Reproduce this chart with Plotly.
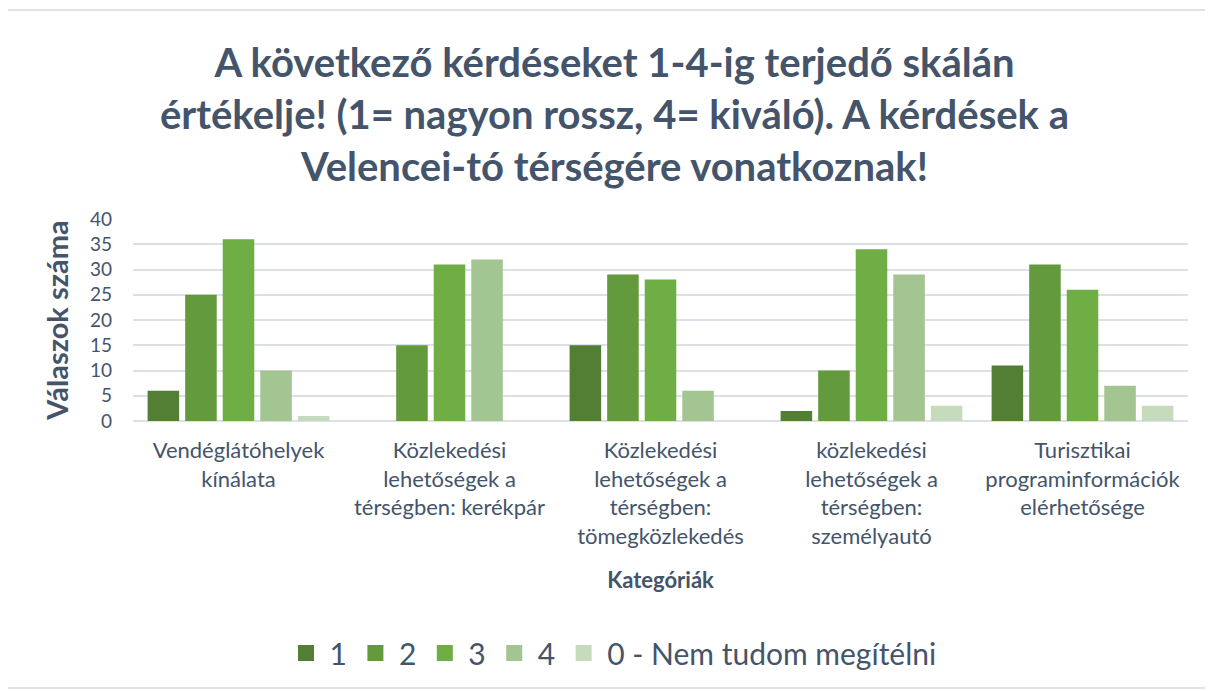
import plotly.graph_objects as go

# Kategóriák (x tengely)
categories = [
    "Vendéglátóhelyek<br>kínálata",
    "Közlekedési<br>lehetőségek a<br>térségben: kerékpár",
    "Közlekedési<br>lehetőségek a<br>térségben:<br>tömegközlekedés",
    "közlekedési<br>lehetőségek a<br>térségben:<br>személyautó",
    "Turisztikai<br>programinformációk<br>elérhetősége",
]

series_names = ["1", "2", "3", "4", "0 - Nem tudom megítélni"]

vals_1 = [6, 0, 15, 2, 11]
vals_2 = [25, 15, 29, 10, 31]
vals_3 = [36, 31, 28, 34, 26]
vals_4 = [10, 32, 6, 29, 7]
vals_0 = [1, 0, 0, 3, 3]

y_ticks = [0, 5, 10, 15, 20, 25, 30, 35, 40]

colors = ["#527f33", "#629a3d", "#6fad45", "#a2c591", "#c6dbbb"]
text_color = "#44546a"
font_family = "Lato, Calibri, 'Open Sans', sans-serif"

fig = go.Figure()
for name, vals, color in zip(series_names, [vals_1, vals_2, vals_3, vals_4, vals_0], colors):
    fig.add_trace(go.Bar(
        name=name, x=categories, y=vals, legendgroup=name, showlegend=False,
        marker=dict(color=color, line=dict(width=0)),
    ))
# nagyobb négyzetes jelmagyarázat-jelek
for name, color in zip(series_names, colors):
    fig.add_trace(go.Scatter(
        name=name, x=[None], y=[None], mode="markers", legendgroup=name,
        marker=dict(symbol="square", size=19, color=color),
    ))

# keret a diagram körül
fig.add_shape(
    type="rect", xref="paper", yref="paper",
    x0=-126 / 1055, x1=1 + 22 / 1055, y0=-267 / 202, y1=1 + 209 / 202,
    line=dict(color="#d9d9d9", width=1.5), fillcolor="rgba(0,0,0,0)", layer="below",
)

fig.update_layout(
    width=1213, height=691,
    margin=dict(l=125, r=33, t=211, b=278, autoexpand=False),
    paper_bgcolor="white", plot_bgcolor="white",
    font=dict(family=font_family, color=text_color),
    title=dict(
        text="<b>A következő kérdéseket 1-4-ig terjedő skálán<br>értékelje! (1= nagyon rossz, 4= kiváló). A kérdések a<br>Velencei-tó térségére vonatkoznak!</b>",
        x=0.5, xanchor="center", yref="container", y=1 - 69 / 691, yanchor="middle",
        font=dict(size=40, color=text_color, family=font_family),
    ),
    barmode="group", bargap=0.11, bargroupgap=0.16,
    showlegend=True,
    legend=dict(
        orientation="h", xref="container", x=(612 - 8) / 1213, xanchor="center",
        yref="container", y=1 - 645 / 691, yanchor="middle",
        font=dict(size=30, color=text_color), traceorder="normal",
        itemwidth=37,
    ),
    xaxis=dict(
        title=dict(text="<b>Kategóriák</b>", font=dict(size=22, color=text_color), standoff=24),
        tickfont=dict(size=22, color=text_color),
        ticklabelstandoff=14,
        showgrid=False, showline=False, ticks="",
    ),
    yaxis=dict(
        title=dict(text="<b>Válaszok száma</b>", font=dict(size=29, color=text_color), standoff=12),
        range=[0, 40], tickvals=y_ticks,
        tickfont=dict(size=19, color=text_color),
        ticklabelstandoff=20,
        showgrid=True, gridcolor="#dde1e7", gridwidth=1.5,
        zeroline=True, zerolinecolor="#dde1e7", zerolinewidth=1.5,
        ticks="",
    ),
)

fig.write_html("out.html")
